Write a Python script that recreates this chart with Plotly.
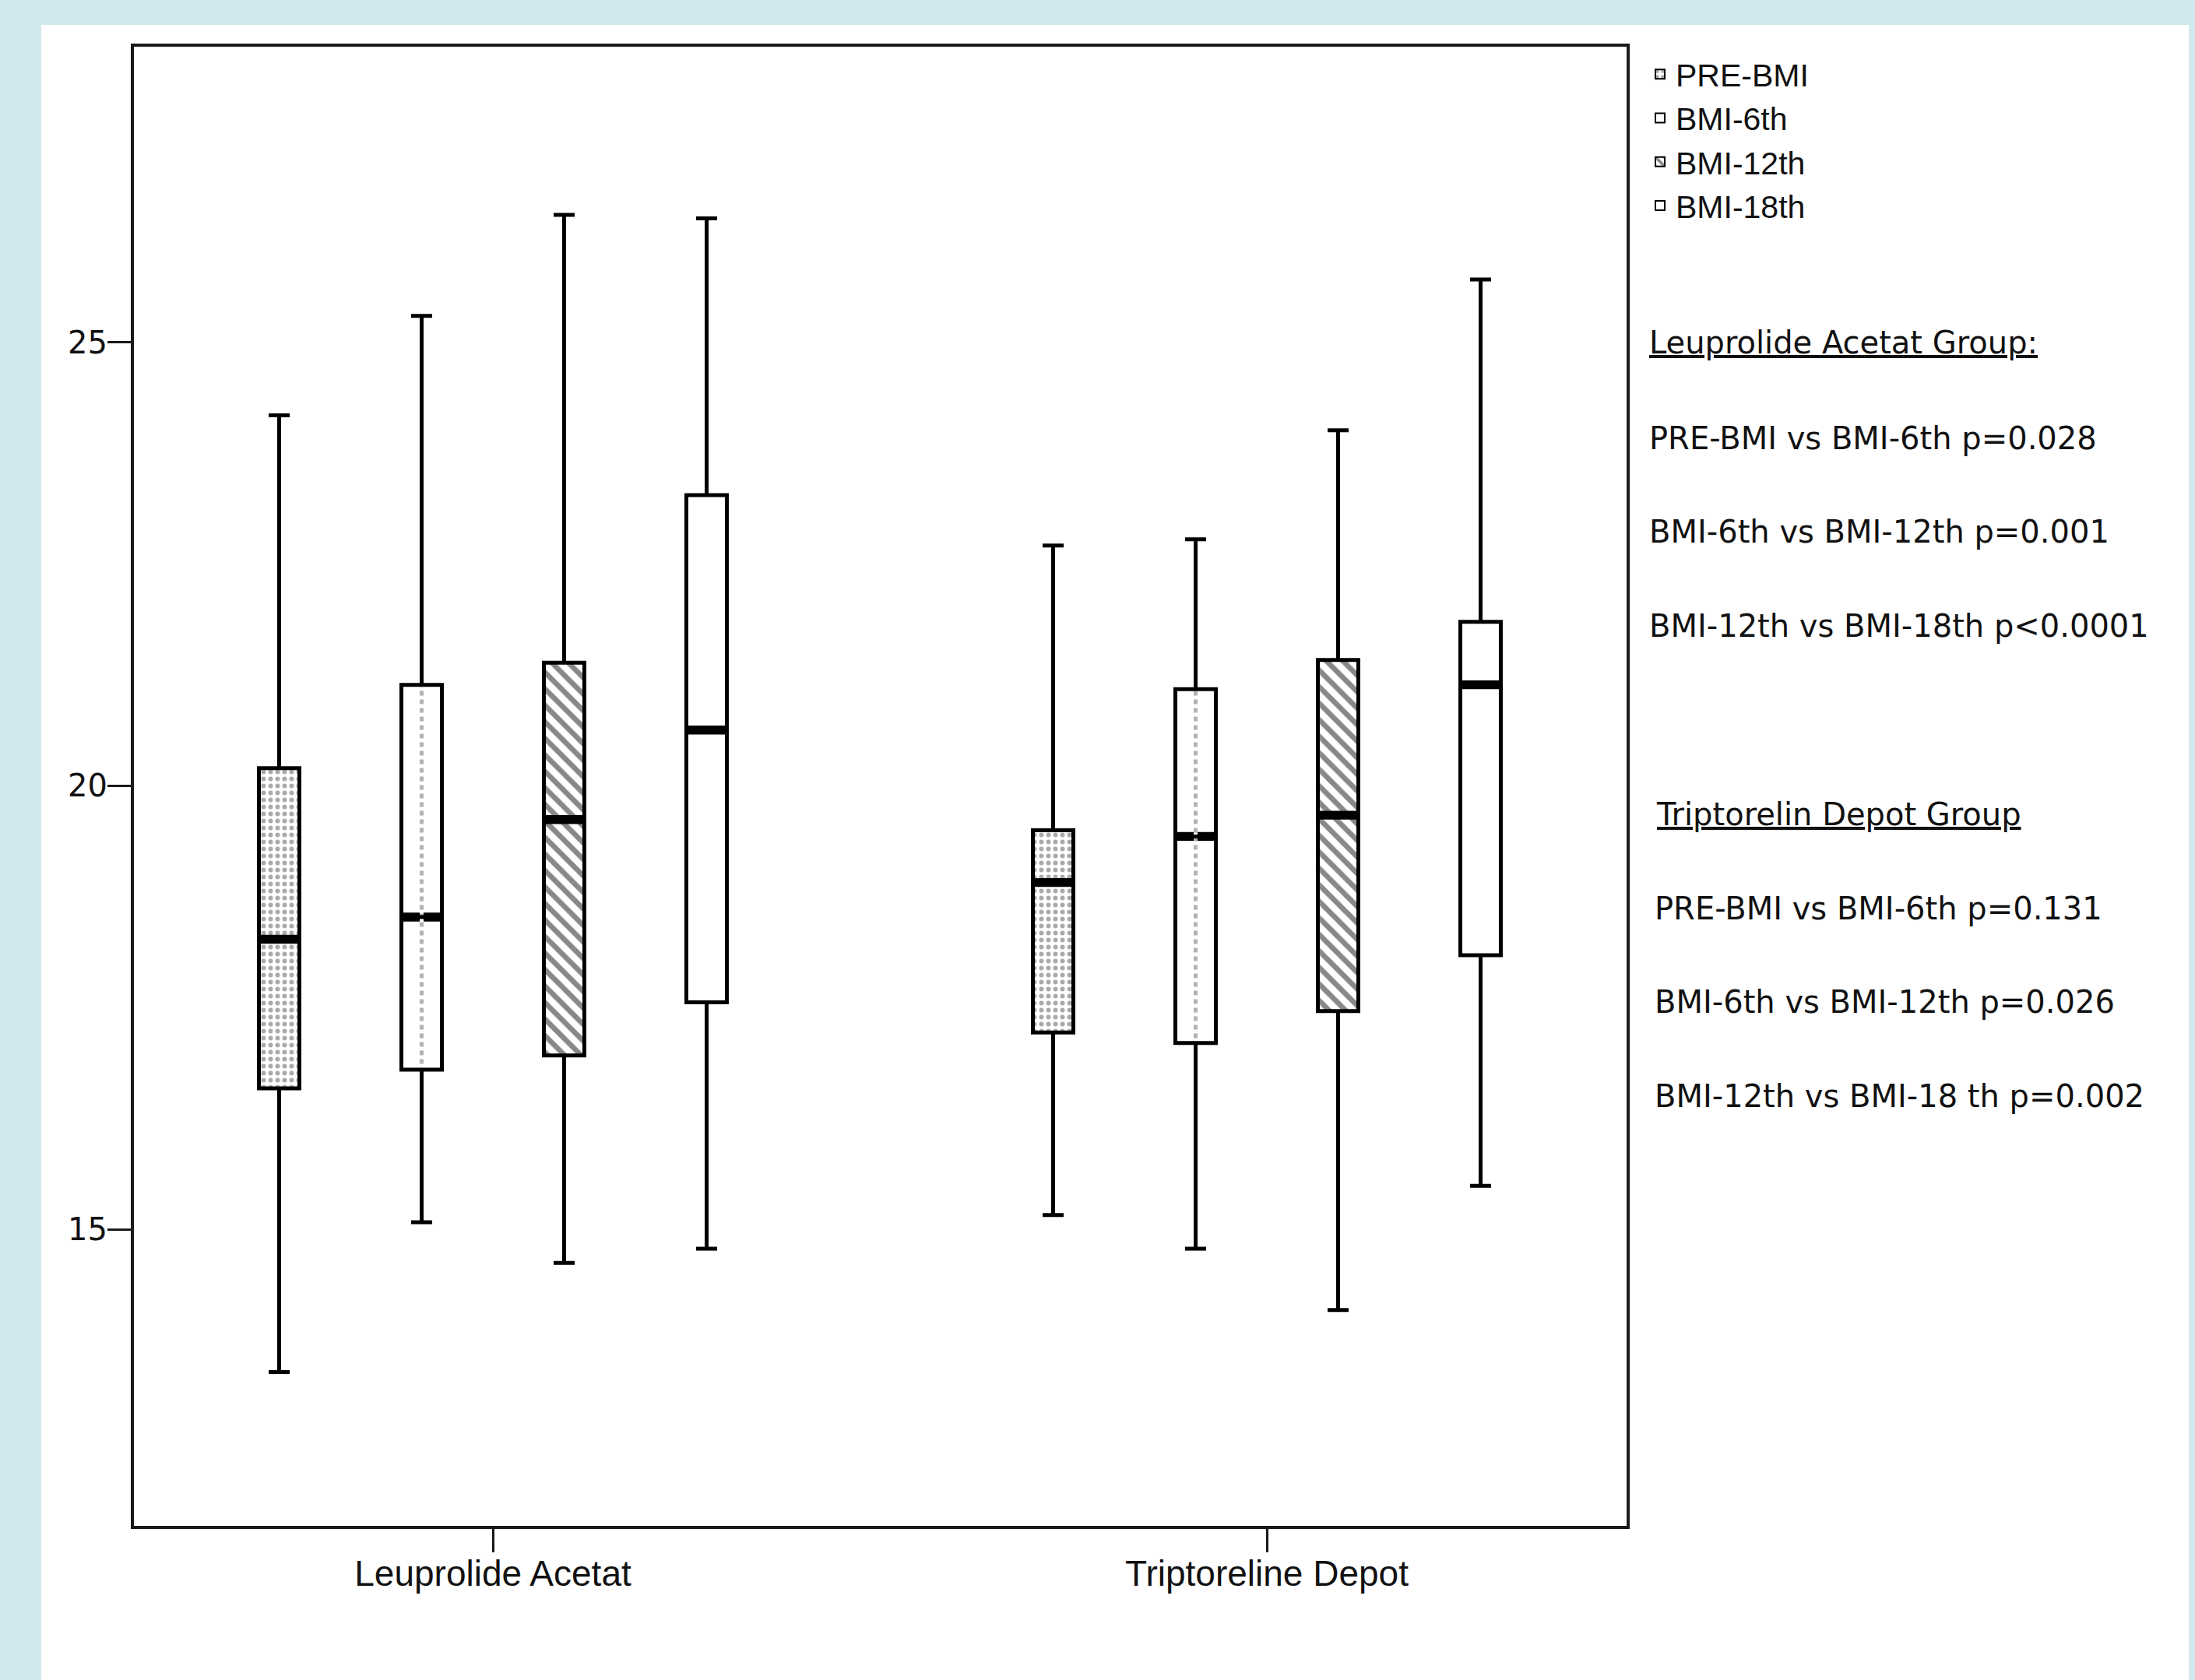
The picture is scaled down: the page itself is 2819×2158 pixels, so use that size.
import plotly.graph_objects as go

# ---------------- data ----------------
categories = ["Leuprolide Acetat", "Triptoreline Depot"]
series_names = ["PRE-BMI", "BMI-6th", "BMI-12th", "BMI-18th"]

pre_lower = [13.39, 15.16]
pre_q1 = [16.59, 17.22]
pre_median = [18.27, 18.91]
pre_q3 = [20.20, 19.50]
pre_upper = [24.18, 22.71]

m6_lower = [15.08, 14.78]
m6_q1 = [16.80, 17.10]
m6_median = [18.52, 19.43]
m6_q3 = [21.14, 21.09]
m6_upper = [25.30, 22.78]

m12_lower = [14.62, 14.09]
m12_q1 = [16.96, 17.46]
m12_median = [19.62, 19.67]
m12_q3 = [21.39, 21.42]
m12_upper = [26.44, 24.01]

m18_lower = [14.78, 15.49]
m18_q1 = [17.56, 18.09]
m18_median = [20.63, 21.14]
m18_q3 = [23.28, 21.85]
m18_upper = [26.40, 25.71]

y_ticks = [15, 20, 25]

stats_lines = [
    "<u>Leuprolide Acetat Group:</u>",
    "PRE-BMI vs BMI-6th p=0.028",
    "BMI-6th vs BMI-12th p=0.001",
    "BMI-12th vs BMI-18th p<0.0001",
    "<u>Triptorelin Depot Group</u>",
    "PRE-BMI vs BMI-6th p=0.131",
    "BMI-6th vs BMI-12th p=0.026",
    "BMI-12th vs BMI-18 th p=0.002",
]

# ---------------- styles ----------------
W, H = 2819, 2158
ML, MR, MT, MB = 172, 730, 60, 198
PW, PH = W - ML - MR, H - MT - MB

series = [
    dict(name="PRE-BMI", lo=pre_lower, q1=pre_q1, med=pre_median, q3=pre_q3, hi=pre_upper,
         pattern=dict(shape=".", size=9, solidity=0.35, fgcolor="#555555", bgcolor="white")),
    dict(name="BMI-6th", lo=m6_lower, q1=m6_q1, med=m6_median, q3=m6_q3, hi=m6_upper,
         pattern=dict(shape="", bgcolor="white")),
    dict(name="BMI-12th", lo=m12_lower, q1=m12_q1, med=m12_median, q3=m12_q3, hi=m12_upper,
         pattern=dict(shape="\\", size=15, solidity=0.45, fgcolor="#111111", bgcolor="white")),
    dict(name="BMI-18th", lo=m18_lower, q1=m18_q1, med=m18_median, q3=m18_q3, hi=m18_upper,
         pattern=dict(shape="", bgcolor="white")),
]

MEDIAN_THICK = 0.1
GAP = 0.2636
GROUPGAP = 0.716

fig = go.Figure()

for s in series:
    # patterned box body (also provides the legend swatch)
    fig.add_trace(go.Bar(
        x=categories,
        y=[b - a for a, b in zip(s["q1"], s["q3"])],
        base=s["q1"],
        name=s["name"],
        offsetgroup=s["name"],
        marker=dict(color="white", pattern=s["pattern"],
                    line=dict(width=2, color="black")),
        showlegend=True,
        legendgroup=s["name"],
        hoverinfo="skip",
    ))
    # thick median
    fig.add_trace(go.Bar(
        x=categories,
        y=[MEDIAN_THICK] * len(categories),
        base=[m - MEDIAN_THICK / 2 for m in s["med"]],
        offsetgroup=s["name"],
        marker=dict(color="black", line=dict(width=0)),
        showlegend=False,
        legendgroup=s["name"],
        hoverinfo="skip",
    ))
    if s["name"] == "BMI-6th":
        # dashed centre line of the BMI-6th box
        fig.add_trace(go.Bar(
            x=categories,
            y=[b - a for a, b in zip(s["q1"], s["q3"])],
            base=s["q1"],
            offsetgroup=s["name"],
            width=0.005,
            marker=dict(color="white",
                        pattern=dict(shape="-", size=11, solidity=0.55,
                                     fgcolor="#666666", bgcolor="white"),
                        line=dict(width=0)),
            showlegend=False,
            legendgroup=s["name"],
            hoverinfo="skip",
        ))

for s in series:
    fig.add_trace(go.Box(
        x=categories,
        q1=s["q1"], median=s["med"], q3=s["q3"],
        lowerfence=s["lo"], upperfence=s["hi"],
        name=s["name"],
        offsetgroup=s["name"],
        boxpoints=False,
        fillcolor="rgba(0,0,0,0)",
        line=dict(color="black", width=5),
        whiskerwidth=0.52,
        showlegend=False,
        legendgroup=s["name"],
        hoverinfo="skip",
    ))

def px_to_paper_x(px):
    return (px - ML) / PW

def px_to_paper_y(py):
    return 1 - (py - MT) / PH

# white panel on a light-blue page
fig.add_shape(type="rect", xref="paper", yref="paper", layer="below",
              x0=px_to_paper_x(53), x1=px_to_paper_x(2811),
              y0=px_to_paper_y(2300), y1=px_to_paper_y(32),
              fillcolor="white", line=dict(width=0))

# statistics text
text_pos = [(2116, 440), (2116, 563), (2116, 683), (2116, 804),
            (2125, 1046), (2123, 1167), (2123, 1287), (2123, 1408)]
for txt, (px, py) in zip(stats_lines, text_pos):
    fig.add_annotation(text=txt, xref="paper", yref="paper",
                       x=px_to_paper_x(px), y=px_to_paper_y(py),
                       xanchor="left", yanchor="middle", showarrow=False,
                       font=dict(family="DejaVu Sans", size=40, color="#111111"))

fig.update_layout(
    width=W, height=H,
    margin=dict(l=ML, r=MR, t=MT, b=MB, autoexpand=False),
    paper_bgcolor="#D1E8EC",
    plot_bgcolor="white",
    barmode="group", bargap=GAP, bargroupgap=GROUPGAP,
    boxmode="group", boxgap=GAP, boxgroupgap=GROUPGAP,
    font=dict(family="Liberation Sans, Arial", color="#111111"),
    legend=dict(x=px_to_paper_x(2112), y=px_to_paper_y(62), xanchor="left", yanchor="top",
                bgcolor="rgba(0,0,0,0)", borderwidth=0,
                font=dict(family="Liberation Sans, Arial", size=41, color="#111111"),
                tracegroupgap=0, itemwidth=30),
    xaxis=dict(type="category", range=[-0.4638, 1.4648],
               showline=True, linecolor="#1a1a1a", linewidth=4, mirror=True,
               ticks="outside", ticklen=30, tickwidth=3, tickcolor="#1a1a1a",
               ticklabelstandoff=-12,
               tickfont=dict(family="Liberation Sans, Arial", size=46, color="#111111"),
               showgrid=False, zeroline=False, fixedrange=True),
    yaxis=dict(range=[11.655, 28.336], tickvals=y_ticks,
               showline=True, linecolor="#1a1a1a", linewidth=4, mirror=True,
               ticks="outside", ticklen=30, tickwidth=3, tickcolor="#1a1a1a",
               ticklabelstandoff=-8,
               tickfont=dict(family="DejaVu Sans", size=40, color="#111111"),
               showgrid=False, zeroline=False, fixedrange=True),
)

fig.write_html("out.html", config={"displayModeBar": False},
               post_script="document.body.style.margin='0px';")
